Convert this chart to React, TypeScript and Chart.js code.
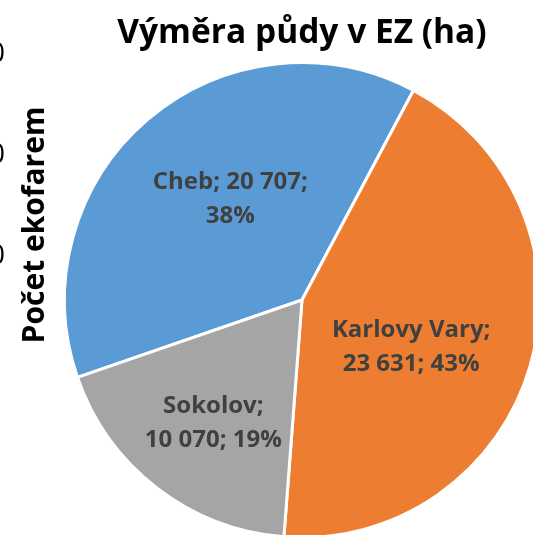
import React, { useEffect, useRef } from "react";
import { Chart, registerables } from "chart.js";

Chart.register(...registerables);

const categories = ["Cheb", "Karlovy Vary", "Sokolov"];
const values = [20707, 23631, 10070];
const colors = ["#5B9BD5", "#ED7D31", "#A5A5A5"];
const titleText = "Výměra půdy v EZ (ha)";
const sideLabel = "Počet ekofarem";
const leftTickLabels = ["0", "0", "0"];

const labelLines = [
  ["Cheb; 20 707;", "38%"],
  ["Karlovy Vary;", "23 631; 43%"],
  ["Sokolov;", "10 070; 19%"],
];
// label position: fraction of radius and angle nudge (deg)
const labelPlace = [
  { f: 0.52, da: 5 },
  { f: 0.5, da: 7 },
  { f: 0.64, da: -2 },
];

const FONT = "'Open Sans', Lato, sans-serif";

const overlayPlugin = {
  id: "overlay",
  afterDraw(chart: any) {
    const ctx = chart.ctx as CanvasRenderingContext2D;
    const meta = chart.getDatasetMeta(0);
    ctx.save();
    ctx.fillStyle = "#404040";
    ctx.textAlign = "center";
    ctx.textBaseline = "middle";
    ctx.font = `bold 24px ${FONT}`;
    meta.data.forEach((arc: any, i: number) => {
      const p = arc.getProps(["x", "y", "startAngle", "endAngle", "outerRadius"], true);
      const mid = (p.startAngle + p.endAngle) / 2 + (labelPlace[i].da * Math.PI) / 180;
      const r = p.outerRadius * labelPlace[i].f;
      const cx = p.x + Math.cos(mid) * r;
      const cy = p.y + Math.sin(mid) * r;
      const lines = labelLines[i];
      const lh = 34;
      lines.forEach((ln, k) => {
        ctx.fillText(ln, cx, cy + (k - (lines.length - 1) / 2) * lh);
      });
    });
    // title
    ctx.fillStyle = "#000000";
    ctx.font = `bold 33.5px ${FONT}`;
    ctx.fillText(titleText, 302, 33);
    // side axis title (rotated)
    ctx.save();
    ctx.translate(35, 225);
    ctx.rotate(-Math.PI / 2);
    ctx.font = `bold 30px ${FONT}`;
    ctx.fillText(sideLabel, 0, 0);
    ctx.restore();
    // clipped tick labels at left edge
    ctx.font = `28px ${FONT}`;
    ctx.textAlign = "right";
    const ys = [54, 155, 256];
    leftTickLabels.forEach((t, i) => ctx.fillText(t, 5, ys[i]));
    ctx.restore();
  },
};

export default function App() {
  const ref = useRef<HTMLCanvasElement | null>(null);
  useEffect(() => {
    document.body.style.margin = "0";
    const chart = new Chart(ref.current!, {
      type: "pie",
      data: {
        labels: categories,
        datasets: [
          {
            data: values,
            backgroundColor: colors,
            borderColor: "#ffffff",
            borderWidth: 3,
          },
        ],
      },
      options: {
        responsive: false,
        animation: false,
        rotation: -109,
        layout: { padding: { left: 63, top: 61, right: 19, bottom: 21 } },
        plugins: {
          legend: { display: false },
          tooltip: { enabled: false },
          title: { display: false },
        },
      },
      plugins: [overlayPlugin],
    });
    return () => chart.destroy();
  }, []);
  return (
    <div style={{ position: "absolute", left: 0, top: 0, width: 533, height: 535, overflow: "hidden", background: "#fff" }}>
      <canvas ref={ref} width={560} height={560} style={{ width: 560, height: 560 }} />
    </div>
  );
}
